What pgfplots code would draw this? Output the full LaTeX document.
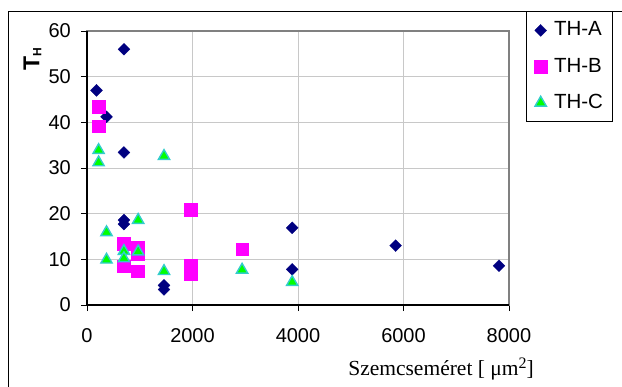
\documentclass[border=0pt]{standalone}
\usepackage{pgfplots}
\pgfplotsset{compat=1.18}
\usepackage{fontspec}
\setmainfont{Liberation Sans}
\newfontfamily\timesfont{Liberation Serif}
\definecolor{thA}{RGB}{0,0,128}
\definecolor{thB}{RGB}{255,0,255}
\definecolor{thCfill}{RGB}{0,255,0}
\definecolor{thCdraw}{RGB}{51,204,204}
\definecolor{gridgray}{RGB}{200,200,200}
\definecolor{framegray}{RGB}{128,128,128}
\begin{document}
\begin{tikzpicture}
\useasboundingbox (-87bp,-82bp) rectangle (535bp,305bp);
\draw[black, line width=0.8bp] (-79bp,-90bp) -- (-79bp,294bp) -- (540bp,294bp);
\begin{axis}[
  name=main,
  at={(0,0)}, anchor=south west,
  scale only axis, width=422bp, height=274bp,
  xmin=0, xmax=8000, ymin=0, ymax=60,
  xtick={0,2000,...,8000}, ytick={0,10,...,60},
  tick align=outside, xtick pos=bottom, ytick pos=left,
  major tick length=6bp,
  tick style={black, line width=0.8bp},
  grid=major, grid style={gridgray, line width=0.8bp},
  axis line style={framegray, line width=1.1bp},
  /pgf/number format/assume math mode=true,
  /pgf/number format/1000 sep={},
  ticklabel style={font=\fontsize{20bp}{22bp}\selectfont},
  xticklabel style={anchor=north, inner sep=0pt, yshift=-17bp},
  yticklabel style={anchor=east, inner sep=0pt, xshift=-10bp},
  xlabel={\timesfont\fontsize{21.5bp}{22bp}\selectfont Szemcseméret [ μm\raisebox{7bp}{\fontsize{16bp}{16bp}\selectfont 2}]},
  xlabel style={at={(rel axis cs:0.839,-0.2555)}, anchor=base, inner sep=0pt},
  ylabel={\bfseries\fontsize{23bp}{24bp}\selectfont T\raisebox{-2bp}{\fontsize{12bp}{12bp}\selectfont H}},
  ylabel style={at={(rel axis cs:-0.129,0.898)}, anchor=center, rotate=0, inner sep=0pt},
  legend style={at={(1.0403,1.073)}, anchor=north west, draw=black, line width=0.8bp,
    font=\fontsize{20.5bp}{22bp}\selectfont, row sep=15.2bp, inner xsep=8bp, inner ysep=8.5bp,
    nodes={inner sep=1bp, text height=15bp, text depth=4bp},
    /tikz/every odd column/.style={column sep=6bp}},
  legend cell align=left,
  legend image code/.code={\draw[#1] plot coordinates {(0bp,0bp)};},
]
\addplot[only marks, mark=square*, mark size=4.2bp, mark options={rotate=45, fill=thA, draw=thA, line width=0.3bp}]
  coordinates {(180,47) (700,56) (370,41.2) (700,33.4) (700,18.6) (700,17.7) (1460,4.3) (1460,3.4) (3890,16.9) (3890,7.8) (5850,13.0) (7810,8.6)};
\addlegendentry{TH-A}
\addplot[only marks, mark=square*, mark size=6.3bp, mark options={fill=thB, draw=thB, line width=0.3bp}]
  coordinates {(220,43.4) (220,39.2) (700,13.5) (700,8.5) (960,12.7) (960,11.3) (960,7.4) (1960,20.9) (1960,8.7) (1960,6.8) (2940,12.2)};
\addlegendentry{TH-B}
\addplot[only marks, mark=triangle*, mark size=6.5bp, mark options={fill=thCfill, draw=thCdraw, line width=1.4bp}]
  coordinates {(220,33.9) (220,31.2) (1460,32.6) (370,15.9) (370,9.9) (970,18.6) (970,11.7) (700,11.8) (700,10.2) (1460,7.4) (2940,7.7) (3890,5.0)};
\addlegendentry{TH-C}
\end{axis}
\draw[black, line width=1.3bp] (main.north west) -- (main.south west) -- (main.south east);
\end{tikzpicture}
\end{document}
